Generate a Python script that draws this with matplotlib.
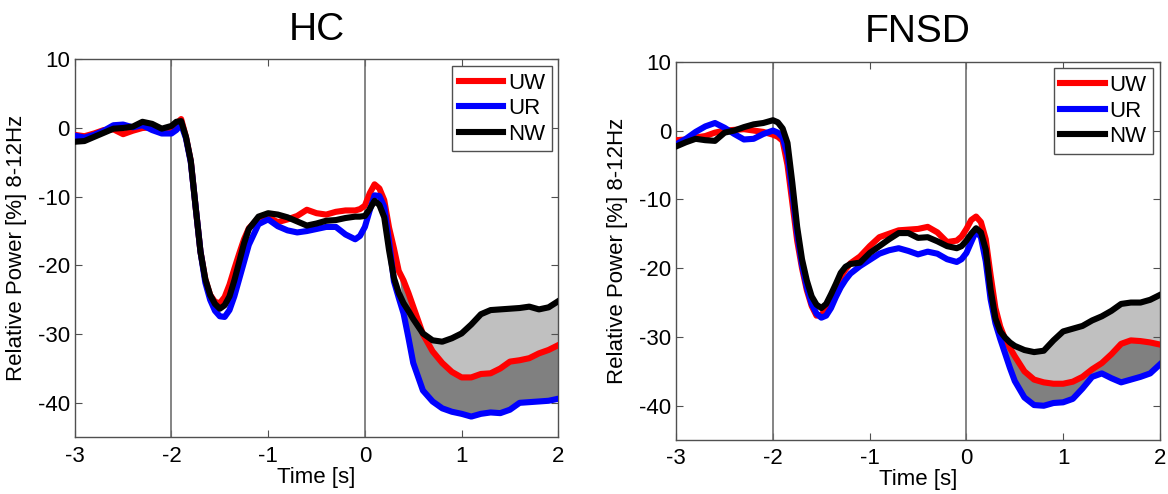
import numpy as np
import matplotlib
matplotlib.use("Agg")
import matplotlib.pyplot as plt

plt.rcParams['font.family'] = ['Liberation Sans', 'DejaVu Sans']
plt.rcParams['axes.unicode_minus'] = False

# Time axis [s] shared by every curve (denser around the fast changes)
t = [-3.0, -2.9, -2.8, -2.7, -2.6, -2.5, -2.4, -2.3, -2.2, -2.1, -2.0,
     -1.95, -1.9, -1.85, -1.8, -1.75, -1.7, -1.65, -1.6, -1.55, -1.5,
     -1.45, -1.4, -1.35, -1.3, -1.25, -1.2,
     -1.1, -1.0, -0.9, -0.8, -0.7, -0.6, -0.5, -0.4, -0.3, -0.2,
     -0.1, -0.05, 0.0, 0.05, 0.1, 0.15, 0.2, 0.25, 0.3, 0.35, 0.4, 0.45, 0.5,
     0.6, 0.7, 0.8, 0.9, 1.0, 1.1, 1.2, 1.3, 1.4, 1.5, 1.6, 1.7, 1.8, 1.9, 2.0]

# HC group
hc_uw = [-1.0, -1.2, -0.8, -0.3, -0.2, -0.9, -0.4, 0.0, 0.1, -0.3, -0.2,
         0.6, 1.3, -1.3, -4.8, -11.5, -18.0, -22.0, -24.3, -25.3, -25.5,
         -24.6, -22.8, -20.5, -18.3, -16.2, -14.6,
         -13.1, -13.0, -13.7, -13.3, -12.8, -11.9, -12.4, -12.6, -12.2, -12.0,
         -12.0, -11.8, -11.3, -9.5, -8.2, -8.8, -10.5, -14.5, -17.5, -20.8, -22.2, -24.0, -26.0,
         -30.0, -32.5, -34.2, -35.5, -36.3, -36.3, -35.8, -35.7, -35.0, -34.0, -33.8, -33.5, -32.8, -32.3, -31.6]
hc_ur = [-1.1, -1.4, -1.0, -0.4, 0.4, 0.5, 0.1, 0.4, -0.3, -0.8, -0.8,
         -0.3, 0.5, -1.5, -5.0, -11.5, -18.0, -22.5, -25.0, -26.6, -27.4,
         -27.5, -26.5, -24.5, -22.0, -19.5, -17.0,
         -14.0, -13.3, -14.3, -14.9, -15.2, -15.0, -14.7, -14.4, -14.4, -15.5,
         -16.2, -15.7, -14.4, -12.0, -9.8, -9.9, -11.5, -16.5, -22.3, -24.7, -27.0, -30.5, -34.2,
         -38.2, -39.8, -40.8, -41.3, -41.6, -42.0, -41.6, -41.4, -41.5, -41.0, -40.0, -39.9, -39.8, -39.7, -39.4]
hc_nw = [-2.0, -1.9, -1.3, -0.7, -0.1, 0.0, 0.2, 0.9, 0.6, -0.1, 0.3,
         0.9, 1.0, -1.3, -4.8, -11.5, -18.0, -22.0, -24.3, -25.6, -26.3,
         -25.8, -24.5, -22.2, -19.5, -16.8, -14.7,
         -12.9, -12.4, -12.6, -13.0, -13.6, -14.2, -13.9, -13.5, -13.4, -13.1,
         -12.9, -12.9, -12.8, -11.8, -10.6, -11.2, -13.0, -17.8, -21.8, -24.0, -25.5, -26.6, -27.8,
         -29.9, -30.9, -31.1, -30.6, -29.9, -28.6, -27.1, -26.5, -26.4, -26.3, -26.2, -26.0, -26.4, -26.1, -25.2]

# FNSD group
fn_uw = [-1.4, -1.3, -1.0, -0.8, -0.3, 0.0, 0.1, 0.2, 0.0, -0.2, -0.6,
         -0.9, -1.5, -5.0, -10.5, -16.0, -20.0, -23.2, -25.5, -26.9, -26.8,
         -25.9, -24.5, -22.7, -21.3, -20.2, -19.3,
         -18.3, -16.8, -15.5, -15.0, -14.5, -14.4, -14.3, -14.0, -14.8, -16.2,
         -16.0, -15.4, -14.3, -13.0, -12.5, -13.3, -15.8, -21.0, -25.8, -28.5, -30.3, -31.6, -32.8,
         -35.0, -36.2, -36.6, -36.8, -36.8, -36.5, -35.8, -34.7, -33.8, -32.5, -31.0, -30.5, -30.6, -30.8, -31.1]
fn_ur = [-2.0, -1.2, -0.2, 0.6, 1.1, 0.4, -0.5, -1.3, -1.2, -0.5, 0.0,
         -0.3, -1.0, -3.5, -9.0, -15.0, -19.5, -22.8, -25.2, -26.6, -27.2,
         -26.9, -25.8, -24.2, -22.8, -21.7, -20.8,
         -19.7, -18.8, -17.9, -17.4, -17.1, -17.5, -18.0, -17.6, -17.9, -18.7,
         -19.1, -18.7, -17.8, -16.2, -14.6, -15.5, -19.0, -24.5, -28.0, -30.3, -32.4, -34.5, -36.4,
         -38.8, -39.9, -40.0, -39.6, -39.5, -39.0, -37.5, -35.8, -35.3, -36.0, -36.6, -36.2, -35.8, -35.3, -34.0]
fn_nw = [-2.3, -1.7, -1.2, -1.4, -1.5, -0.3, 0.0, 0.5, 0.9, 1.1, 1.5,
         1.2, 0.3, -1.8, -7.6, -14.0, -18.7, -21.8, -24.1, -25.3, -25.8,
         -25.2, -23.8, -22.3, -20.7, -19.8, -19.4,
         -19.2, -17.8, -16.8, -15.8, -14.9, -14.9, -15.6, -15.5, -16.1, -16.8,
         -17.1, -16.8, -16.0, -15.0, -14.2, -14.8, -17.3, -23.1, -27.3, -29.2, -30.1, -30.8, -31.3,
         -31.9, -32.2, -32.0, -30.5, -29.2, -28.8, -28.4, -27.6, -27.0, -26.2, -25.2, -25.0, -25.0, -24.6, -23.9]

fig = plt.figure(figsize=(11.68, 4.94), dpi=100)
ax1 = fig.add_axes([0.064, 0.115, 0.414, 0.765])
ax2 = fig.add_axes([0.579, 0.109, 0.414, 0.766])

panels = [(ax1, 'HC', hc_uw, hc_ur, hc_nw), (ax2, 'FNSD', fn_uw, fn_ur, fn_nw)]

tt = np.array(t)
for ax, title, uw, ur, nw in panels:
    uw = np.array(uw)
    ur = np.array(ur)
    nw = np.array(nw)
    late = tt >= 0.4
    # shaded differences after the response
    ax.fill_between(tt, nw, uw, where=late & (nw >= uw), interpolate=True,
                    color='#c0c0c0', linewidth=0, zorder=1)
    ax.fill_between(tt, uw, ur, where=late & (uw >= ur), interpolate=True,
                    color='#808080', linewidth=0, zorder=1)
    ax.axvline(-2, color='#707070', lw=1.2, zorder=2)
    ax.axvline(0, color='#707070', lw=1.2, zorder=2)
    ax.plot(tt, uw, color='#ff0000', lw=4.4, label='UW', zorder=3,
            solid_joinstyle='round')
    ax.plot(tt, ur, color='#0000ff', lw=4.4, label='UR', zorder=3,
            solid_joinstyle='round')
    ax.plot(tt, nw, color='#000000', lw=4.4, label='NW', zorder=4,
            solid_joinstyle='round')

    ax.set_xlim(-3, 2)
    ax.set_ylim(-45, 10)
    ax.set_xticks([-3, -2, -1, 0, 1, 2])
    ax.set_yticks([-40, -30, -20, -10, 0, 10])
    ax.tick_params(direction='in', top=True, right=True, labelsize=16,
                   length=5, color='#505050')
    ax.tick_params(axis='x', pad=6)
    ax.tick_params(axis='y', pad=3.5)
    for s in ax.spines.values():
        s.set_color('#505050')
        s.set_linewidth(1.0)
    ax.set_title(title, fontsize=28, pad=14)
    ax.set_xlabel('Time [s]', fontsize=16, labelpad=0)
    ax.set_ylabel('Relative Power [%] 8-12Hz', fontsize=16, labelpad=8)
    leg = ax.legend(loc='upper right', fontsize=16, fancybox=False,
                    framealpha=1, edgecolor='#505050', handlelength=2.0,
                    handletextpad=0.2, borderpad=0.3, labelspacing=0.2,
                    borderaxespad=0.3)
    leg.get_frame().set_linewidth(1.0)

fig.savefig('out.png', dpi=100)
